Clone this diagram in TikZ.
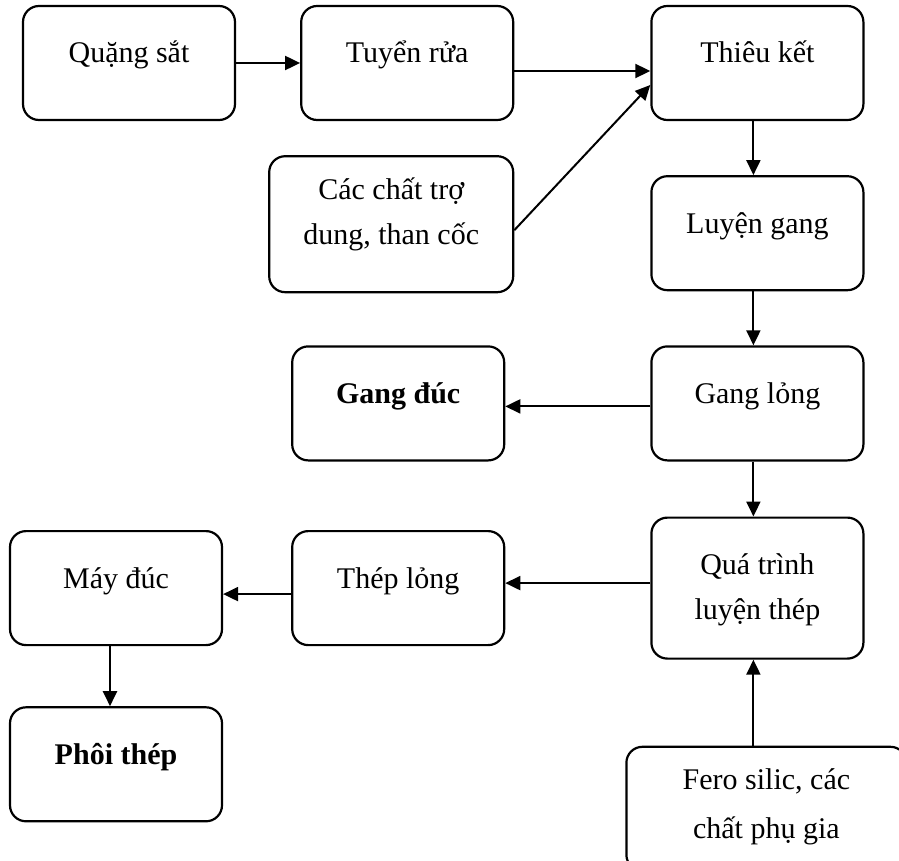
\documentclass[tikz,border=0pt]{standalone}
\usepackage{fontspec}
\setmainfont{Liberation Serif}
\usepackage{tikz}
\usetikzlibrary{arrows.meta,positioning}

\begin{document}
\begin{tikzpicture}[
  x=1pt, y=1pt,
  every node/.style={font=\fontsize{15pt}{22.5pt}\selectfont},
  box/.style={
    draw, line width=1.1pt, rounded corners=8pt,
    minimum width=106pt, inner sep=0pt, align=center,
    text height=28.5pt, text depth=28.5pt,
  },
  boldbox/.style={box, font=\fontsize{15pt}{22.5pt}\selectfont\bfseries},
  arrow/.style={-{Triangle[length=7.5pt,width=7pt]}, line width=1pt},
]
\useasboundingbox (0,0) rectangle (449.5,-430.5);

% Top row
\node[box] (quang) at (64.5,-31.5) {Quặng sắt};
\node[box, right=32pt of quang] (tuyen) {Tuyển rửa};
\node[box, right=68pt of tuyen] (thieu) {Thiêu kết};
\node[box, minimum width=122pt, text height=44pt, text depth=24pt,
  below left=17pt and 0pt of tuyen.south east] (chat) {Các chất trợ\\dung, than cốc};

% Right column
\node[box, below=27pt of thieu] (luyen) {Luyện gang};
\node[box, below=27pt of luyen] (ganglong) {Gang lỏng};
\node[box, text height=51pt, text depth=19.5pt,
  below=27.5pt of ganglong] (qua) {Quá trình\\luyện thép};
\node[box, minimum width=140pt, text height=46pt, text depth=16pt,
  font=\fontsize{15pt}{24.5pt}\selectfont,
  below=43pt of qua, xshift=4.5pt] (fero) {Fero silic, các\\chất phụ gia};

% Left side
\node[boldbox, left=72.5pt of ganglong] (gangduc) {Gang đúc};
\node[box, left=72.5pt of qua] (theplong) {Thép lỏng};
\node[box, left=34pt of theplong] (may) {Máy đúc};
\node[boldbox, below=30pt of may] (phoi) {Phôi thép};

% Arrows
\draw[arrow] (quang.east) -- (tuyen.west);
\draw[arrow] ([yshift=-4pt]tuyen.east) -- ([yshift=-4pt]thieu.west);
\draw[arrow] ([yshift=-3pt]chat.east) -- ([yshift=-11pt]thieu.west);
\draw[arrow] ([xshift=-2pt]thieu.south) -- ([xshift=-2pt]luyen.north);
\draw[arrow] ([xshift=-2pt]luyen.south) -- ([xshift=-2pt]ganglong.north);
\draw[arrow] ([yshift=-1.5pt]ganglong.west) -- ([yshift=-1.5pt]gangduc.east);
\draw[arrow] ([xshift=-2pt]ganglong.south) -- ([xshift=-2pt]qua.north);
\draw[arrow] ([yshift=2.5pt]qua.west) -- ([yshift=2.5pt]theplong.east);
\draw[arrow] ([yshift=-3pt]theplong.west) -- ([yshift=-3pt]may.east);
\draw[arrow] ([xshift=-3pt]may.south) -- ([xshift=-3pt]phoi.north);
\draw[arrow] ([xshift=-2pt]qua.south |- fero.north) -- ([xshift=-2pt]qua.south);

\end{tikzpicture}
\end{document}
